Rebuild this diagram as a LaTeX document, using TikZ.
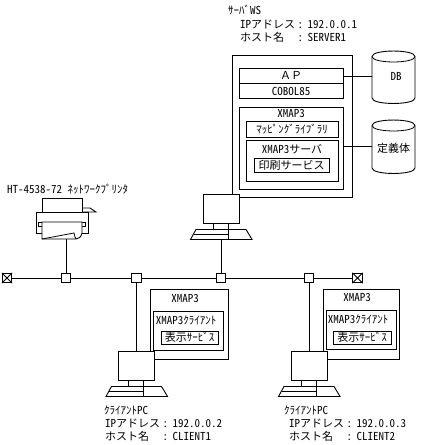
\documentclass[tikz,border=0pt]{standalone}
\usepackage{fontspec}
\setmainfont[RawFeature={+hwid}]{Noto Sans CJK JP}
\newfontfamily\fullw{Noto Sans CJK JP}
\usetikzlibrary{calc}
\newcommand{\adr}[1]{\begingroup\spaceskip=2.5pt\relax #1\endgroup}
\tikzset{
 ln/.style={draw=black,line width=0.8pt},
 sh/.style={draw=black,line width=0.9pt,fill=white},
 bx/.style={draw=black,line width=0.9pt,inner sep=0pt,anchor=north west,font=\fontsize{11}{12}\selectfont},
 lab/.style={inner sep=0pt,anchor=west,font=\fontsize{11}{12}\selectfont},
 clab/.style={inner sep=0pt,anchor=center,font=\fontsize{11}{12}\selectfont},
 hub/.style={draw=black,line width=0.9pt,fill=white,minimum size=9.5pt,inner sep=0pt},
 termbox/.style={draw=black,line width=0.8pt,fill=white,minimum size=9.5pt,inner sep=0pt},
 wh/.style 2 args={minimum width=#1pt,minimum height=#2pt},
}
\newcommand{\pcat}[3]{% x y name
 \node[draw=black,line width=0.9pt,fill=white,minimum width=36pt,minimum height=29pt,inner sep=0pt] (#3) at (#1,#2) {};
 \path[sh] ($(#3.south)+(-8,0)$) rectangle ($(#3.south)+(7,6)$);
 \path[sh] ($(#3.south)+(-25,6)$) -- ($(#3.south)+(25,6)$) -- ($(#3.south)+(31,16)$) -- ($(#3.south)+(-30.5,16)$) -- cycle;
 \draw[ln] ($(#3.south)+(-27.5,11)$) -- ($(#3.south)+(7,11)$);
 \draw[ln] ($(#3.south)+(7,0)$) -- ($(#3.south)+(7,16)$);
 \draw[line width=1.1pt] ($(#3.south)+(-30.5,16)$) -- ($(#3.south)+(31,16)$);
 \coordinate (#3k) at ($(#3.south)+(0,16)$);
}
\begin{document}
\begin{tikzpicture}[x=1pt,y=-1pt]
\useasboundingbox (0,0) rectangle (428,445);
% LAN
\node[hub] (h1) at (66,278) {};
\node[hub] (h2) at (136.5,278) {};
\node[hub] (h3) at (221,278) {};
\node[hub] (h4) at (309,278) {};
\node[termbox] (t1) at (7,278) {};
\draw[ln] (t1.north west)--(t1.south east) (t1.north east)--(t1.south west);
\node[termbox] (t2) at (357.5,278) {};
\draw[ln] (t2.north west)--(t2.south east) (t2.north east)--(t2.south west);
\draw[ln] (t1)--(h1) (h1)--(h2) (h2)--(h3) (h3)--(h4) (h4)--(t2);
% server box
\node[bx,fill=white,wh={120}{142}] (srv) at (232,55) {};
\node[bx,wh={104}{30}] (ap) at (239,68) {};
\draw[ln] (ap.west)--(ap.east);
\node[clab] at (291,75.5) {\fullw ＡＰ};
\node[clab] at (291,91) {COBOL85};
\node[bx,wh={104}{82}] (xm) at (239,107) {};
\node[clab] at (291,114) {XMAP3};
\node[bx,wh={92}{16}] (lib) at (246,121) {};
\node[clab] at (292,129) {ﾏｯﾋﾟﾝｸﾞﾗｲﾌﾞﾗﾘ};
\node[bx,wh={92}{41}] (xs) at (246,140) {};
\node[clab] at (292,149) {XMAP3サーバ};
\node[bx,wh={75}{14}] (pr) at (254,158) {};
\node[clab] at (291.5,165) {印刷サービス};
% cylinders
\path[sh] (372,56.5) -- (372,98) .. controls (372,105.3) and (415,105.3) .. (415,98) -- (415,56.5) .. controls (415,49.2) and (372,49.2) .. (372,56.5) -- cycle;
\draw[ln] (372,56.5) .. controls (372,63.8) and (415,63.8) .. (415,56.5);
\coordinate (db) at (372,76);
\node[clab] at (396,76) {DB};
\path[sh] (372,125.5) -- (372,168) .. controls (372,175.3) and (415,175.3) .. (415,168) -- (415,125.5) .. controls (415,118.2) and (372,118.2) .. (372,125.5) -- cycle;
\draw[ln] (372,125.5) .. controls (372,132.8) and (415,132.8) .. (415,125.5);
\coordinate (def) at (372,146);
\node[clab] at (393.5,148) {定義体};
\draw[ln] (ap.east |- db)--(db);
\draw[ln] (xm.east |- def)--(def);
% server PC
\pcat{221}{208.5}{spc}
\draw[ln] (spck)--(h3.north);
% client 1
\node[bx,fill=white,wh={78}{70}] (c1) at (150,289) {};
\node[clab] at (185,299) {XMAP3};
\node[bx,wh={70}{39}] (c1c) at (153,311) {};
\node[clab] at (186,320) {XMAP3ｸﾗｲｱﾝﾄ};
\node[bx,wh={57}{12.5}] (d1) at (161,331) {};
\node[clab] at (189.5,337) {表示ｻｰﾋﾞｽ};
\pcat{136.5}{365.5}{pc1}
\draw[ln] (pc1.north)--(h2.south);
% client 2
\node[bx,fill=white,wh={76}{70}] (c2) at (323,289) {};
\node[clab] at (357,298) {XMAP3};
\node[bx,wh={70}{39}] (c2c) at (326,310) {};
\node[clab] at (358,319) {XMAP3ｸﾗｲｱﾝﾄ};
\node[bx,wh={58}{13}] (d2) at (333,331) {};
\node[clab] at (362,337) {表示ｻｰﾋﾞｽ};
\pcat{309}{365.5}{pc2}
\draw[ln] (pc2.north)--(h4.south);
% printer
\path[sh] (82,208) -- (90,208) -- (96,212) -- (82,212) -- cycle;
\path[sh] (42,198) rectangle (82,212);
\path[sh] (36,212) rectangle (88,233);
\path[sh] (38,222) rectangle (85,226);
\path[sh] (42,222) -- (82,222) -- (82,233) .. controls (81,237) and (79,239) .. (76,239) -- (42,239) -- cycle;
\draw[ln] (42,239) -- (74,233) -- (75,237) -- (76,239);
\coordinate (prn) at (66,239);
\draw[ln] (prn)--(h1.north);
% texts
\node[lab] at (228,10) {ｻｰﾊﾞWS};
\node[lab] at (240,24) {\adr{IPアドレス : 192.0.0.1}};
\node[lab] at (240,37) {\adr{ホスト名\hspace{13.5pt}: SERVER1}};
\node[lab] at (7,189) {HT-4538-72 ﾈｯﾄﾜｰｸﾌﾟﾘﾝﾀ};
\node[lab] at (104,410) {ｸﾗｲｱﾝﾄPC};
\node[lab] at (105,423) {\adr{IPアドレス : 192.0.0.2}};
\node[lab] at (105,436) {\adr{ホスト名\hspace{13.5pt}: CLIENT1}};
\node[lab] at (284,410) {ｸﾗｲｱﾝﾄPC};
\node[lab] at (289,423) {\adr{IPアドレス : 192.0.0.3}};
\node[lab] at (289,436) {\adr{ホスト名\hspace{13.5pt}: CLIENT2}};
\end{tikzpicture}
\end{document}
